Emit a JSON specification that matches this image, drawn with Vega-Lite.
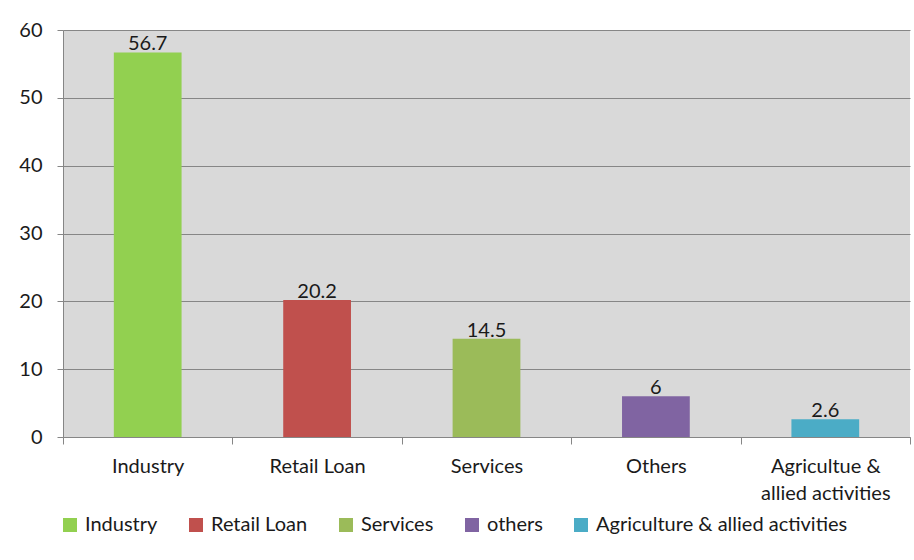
{
  "$schema": "https://vega.github.io/schema/vega-lite/v6.json",
  "width": 847,
  "height": 407,
  "autosize": {"type": "none"},
  "padding": {"left": 63, "top": 30, "right": 4, "bottom": 123},
  "background": "white",
  "data": {
    "values": [
      {"category": "Industry", "legend": "Industry", "value": 56.7},
      {"category": "Retail Loan", "legend": "Retail Loan", "value": 20.2},
      {"category": "Services", "legend": "Services", "value": 14.5},
      {"category": "Others", "legend": "others", "value": 6},
      {"category": "Agricultue & allied activities", "legend": "Agriculture & allied activities", "value": 2.6}
    ]
  },
  "config": {
    "font": "Lato",
    "view": {"fill": "#d9d9d9", "stroke": null},
    "axis": {"labelFont": "Lato", "labelFontSize": 20, "labelColor": "#1a1a1a", "domainColor": "#868686", "tickColor": "#868686", "gridColor": "#868686"}
  },
  "encoding": {
    "x": {
      "field": "category", "type": "nominal", "sort": null,
      "scale": {"paddingInner": 0, "paddingOuter": 0},
      "axis": {"title": null, "labelAngle": 0, "tickBand": "extent", "tickSize": 7, "labelPadding": 12,
        "labelExpr": "datum.label == 'Agricultue & allied activities' ? ['Agricultue &', 'allied activities'] : datum.label",
        "labelLimit": 300, "labelLineHeight": 27, "grid": false}
    },
    "y": {
      "field": "value", "type": "quantitative",
      "scale": {"domain": [0, 60], "nice": false},
      "axis": {"title": null, "values": [0, 10, 20, 30, 40, 50, 60], "tickSize": 6, "labelPadding": 15, "grid": true, "gridWidth": 1.2}
    }
  },
  "layer": [
    {
      "mark": {"type": "bar", "width": {"band": 0.4}},
      "encoding": {
        "color": {
          "field": "legend", "type": "nominal",
          "scale": {
            "domain": ["Industry", "Retail Loan", "Services", "others", "Agriculture & allied activities"],
            "range": ["#92d050", "#c0504d", "#9bbb59", "#8064a2", "#4bacc6"]
          },
          "legend": {
            "title": null, "orient": "none", "legendX": -3, "legendY": 485, "direction": "horizontal",
            "symbolType": "square", "symbolSize": 196, "symbolStrokeWidth": 0, "labelFont": "Lato", "labelFontSize": 20,
            "labelColor": "#1a1a1a", "labelLimit": 400, "columnPadding": 28, "labelOffset": 5
          }
        }
      }
    },
    {
      "mark": {"type": "text", "baseline": "alphabetic", "dy": -2, "fontSize": 20, "font": "Lato", "color": "#1a1a1a"},
      "encoding": {"text": {"field": "value", "type": "quantitative"}}
    }
  ]
}
